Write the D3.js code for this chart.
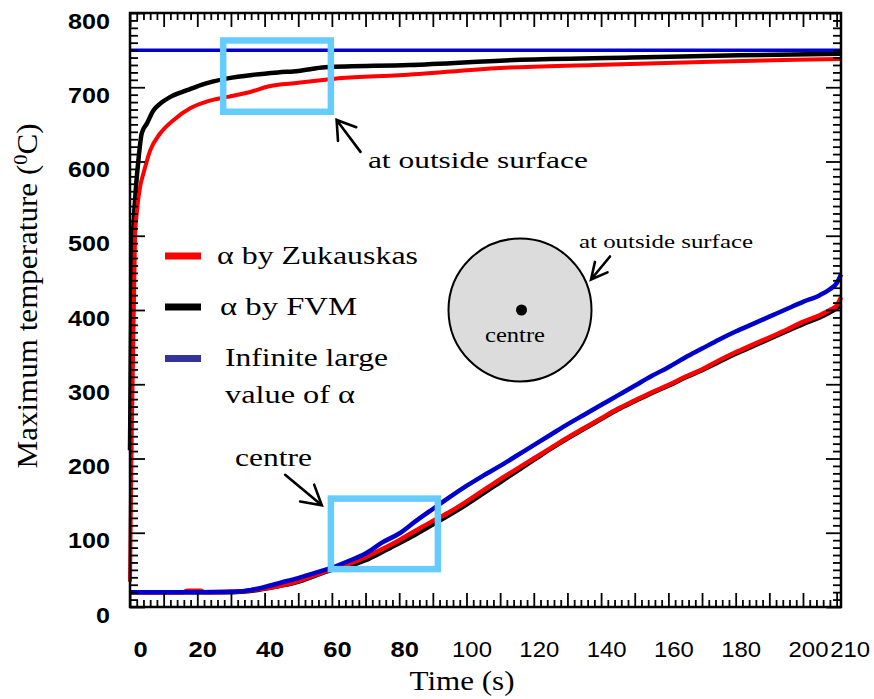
<!DOCTYPE html>
<html>
<head>
<meta charset="utf-8">
<script src="https://cdn.jsdelivr.net/npm/d3@7"></script>
<style>
  html, body { margin: 0; padding: 0; background: #fff; }
  svg { display: block; }
</style>
</head>
<body>
<svg id="chart" width="874" height="699"></svg>
<script>
// ---- Data: maximum temperature (°C) against time (s) ----
// Outside surface, convective coefficient from the Zukauskas correlation
const surfZukTime = [0, 0.5, 1.5, 2, 3, 4, 6, 9, 13, 18, 23, 29, 36, 41, 50, 58, 62, 80, 110, 138, 170, 198, 211.3];
const surfZukTemp = [34, 225, 500, 530, 566, 584, 615, 638, 656, 672, 681, 687, 694, 701, 706, 710, 712, 716, 726, 730, 734, 737, 738];

// Outside surface, coefficient from the FVM solution
const surfFvmTime = [0, 0.4, 0.8, 1.5, 2.5, 3.5, 5, 7, 9, 12, 17, 21, 29, 37, 44, 50, 58, 83, 116, 149, 181, 211.3];
const surfFvmTemp = [211, 420, 490, 548, 602, 638, 651, 669, 678, 687, 696, 703, 712, 717, 720, 722, 727, 730, 737, 740, 743, 745];

// Outside surface, infinitely large coefficient
const surfInfTime = [0, 211.3];
const surfInfTemp = [750, 750];

// Centre, Zukauskas
const centreZukTime = [0, 16, 17, 21, 22, 33, 38, 44, 50, 55, 60, 65, 70, 75, 80, 85, 90, 95, 100, 105, 110, 115, 120, 125, 130, 135, 140, 145, 150, 155, 160, 165, 170, 175, 180, 185, 190, 195, 200, 205, 208, 210, 211.3];
const centreZukTemp = [20, 20, 22, 22, 20, 21, 24, 28, 35, 43, 51, 58, 67, 78, 90, 103, 116, 128, 142, 157, 172, 186, 200, 214, 228, 241, 254, 267, 278, 289, 299, 310, 320, 332, 343, 353, 363, 373, 384, 393, 400, 406, 417];

// Centre, FVM
const centreFvmTime = [0, 30, 34, 38, 44, 50, 55, 60, 65, 70, 75, 80, 85, 90, 95, 100, 105, 110, 115, 120, 125, 130, 135, 140, 145, 150, 155, 160, 165, 170, 175, 180, 185, 190, 195, 200, 205, 208, 210, 211.3];
const centreFvmTemp = [20, 20, 21, 23, 28, 34, 42, 50, 55, 63, 74, 86, 98, 111, 124, 138, 153, 168, 183, 198, 213, 227, 240, 253, 266, 277, 288, 298, 309, 319, 330, 341, 351, 361, 371, 381, 390, 397, 402, 407];

// Centre, infinitely large coefficient
const centreInfTime = [0, 20, 33, 36, 40, 45, 50, 55, 60, 65, 70, 75, 80, 85, 90, 95, 100, 105, 110, 115, 120, 125, 130, 135, 140, 145, 150, 155, 160, 165, 170, 175, 180, 185, 190, 195, 200, 205, 208, 210, 211.3];
const centreInfTemp = [20, 20, 21, 23, 27, 33, 39, 46, 53, 62, 72, 87, 99, 116, 132, 148, 163, 177, 190, 204, 218, 232, 246, 259, 272, 285, 298, 311, 323, 336, 348, 360, 371, 381, 391, 401, 411, 420, 428, 436, 448];

// Axis ticks
const xTickLabels = [0, 20, 40, 60, 80, 100, 120, 140, 160, 180, 200, 210];
const yTickLabels = [0, 100, 200, 300, 400, 500, 600, 700, 800];

// Legend entries
const legendLabels = ["α by Zukauskas", "α by FVM", "Infinite large"];
const legendColors = ["#ff0000", "#000000", "#333399"];

// Highlight boxes, [t0, t1, T0, T1]
const zoomBoxes = [[27.7, 59.7, 667, 763], [59.7, 91.5, 51, 146]];

// ---- Layout ----
const svg = d3.select("#chart");
const x = d3.scaleLinear().domain([0, 211.3]).range([130, 841]);
const y = d3.scaleLinear().domain([0, 800]).range([607, 13]);

const serif = "'Liberation Serif', 'Times New Roman', Times, serif";
const sans = "'Liberation Sans', Arial, Helvetica, sans-serif";

const BLUE = "#0000cc", RED = "#ff0000", BLACK = "#000000", CYAN = "#66ccff";

// ---- Curves ----
const line = d3.line().x(d => x(d[0])).y(d => y(d[1])).curve(d3.curveMonotoneX);
const zip = (t, v) => t.map((d, i) => [d, v[i]]);

const plot = svg.append("g");
const series = [
  { t: centreFvmTime, v: centreFvmTemp, c: BLACK, w: 4.5 },
  { t: centreZukTime, v: centreZukTemp, c: RED, w: 4.5 },
  { t: centreInfTime, v: centreInfTemp, c: BLUE, w: 4.5 },
  { t: surfFvmTime, v: surfFvmTemp, c: BLACK, w: 4.5 },
  { t: surfZukTime, v: surfZukTemp, c: RED, w: 4 },
  { t: surfInfTime, v: surfInfTemp, c: BLUE, w: 3.5 }
];
series.forEach(s => {
  plot.append("path")
    .attr("d", line(zip(s.t, s.v)))
    .attr("fill", "none")
    .attr("stroke", s.c)
    .attr("stroke-width", s.w)
    .attr("stroke-linejoin", "round");
});

// ---- Highlight boxes ----
svg.append("g").selectAll("rect").data(zoomBoxes).join("rect")
  .attr("x", d => x(d[0]))
  .attr("y", d => y(d[3]))
  .attr("width", d => x(d[1]) - x(d[0]))
  .attr("height", d => y(d[2]) - y(d[3]))
  .attr("fill", "none")
  .attr("stroke", CYAN)
  .attr("stroke-width", 6.5);

// ---- Frame ticks (inward on all four sides) ----
const xMinor = d3.range(0, 211, 2).filter(v => v % 10 !== 0);
const xMajor = d3.range(0, 211, 10);
const yMinor = d3.range(0, 801, 10).filter(v => v % 100 !== 0);
const yMajor = d3.range(0, 801, 100);

function tickAxis(axisFn, scale, values, size, transform) {
  const g = svg.append("g").attr("transform", transform)
    .call(axisFn(scale).tickValues(values).tickSize(size).tickFormat(""));
  g.select(".domain").remove();
  g.selectAll(".tick line").attr("stroke", "#000").attr("stroke-width", 1.8);
}
tickAxis(d3.axisTop, x, xMinor, 7, "translate(0,607)");
tickAxis(d3.axisTop, x, xMajor, 14, "translate(0,607)");
tickAxis(d3.axisBottom, x, xMinor, 7, "translate(0,13)");
tickAxis(d3.axisBottom, x, xMajor, 14, "translate(0,13)");
tickAxis(d3.axisRight, y, yMinor, 8, "translate(130,0)");
tickAxis(d3.axisRight, y, yMajor, 15, "translate(130,0)");
tickAxis(d3.axisLeft, y, yMinor, 8, "translate(841,0)");
tickAxis(d3.axisLeft, y, yMajor, 15, "translate(841,0)");

// Frame
svg.append("rect")
  .attr("x", x(0)).attr("y", y(800))
  .attr("width", x(211.3) - x(0)).attr("height", y(0) - y(800))
  .attr("fill", "none").attr("stroke", "#000").attr("stroke-width", 2.5);

// ---- Tick labels ----
const xLab = svg.append("g").attr("transform", "translate(0,607)")
  .call(d3.axisBottom(x).tickValues(xTickLabels).tickSize(0).tickFormat(d3.format("d")));
xLab.select(".domain").remove();
xLab.selectAll("text")
  .attr("y", 50).attr("dy", 0)
  .attr("dx", (d, i) => i === 0 ? 10 : (i === xTickLabels.length - 1 ? 13 : 5))
  .attr("fill", "#000")
  .style("font-family", sans)
  .style("font-size", "22px")
  .style("font-weight", d => d < 100 ? "bold" : "normal")
  .attr("textLength", d => String(d).length * (d < 100 ? 14.2 : 13.3))
  .attr("lengthAdjust", "spacingAndGlyphs");

const yLab = svg.append("g").attr("transform", "translate(130,0)")
  .call(d3.axisLeft(y).tickValues(yTickLabels).tickSize(0).tickPadding(20).tickFormat(d3.format("d")));
yLab.select(".domain").remove();
yLab.selectAll("text")
  .attr("dy", 15).attr("x", -20)
  .attr("fill", "#000")
  .style("font-family", sans)
  .style("font-size", "22px")
  .style("font-weight", "bold")
  .attr("textLength", d => String(d).length * 14)
  .attr("lengthAdjust", "spacingAndGlyphs");

// ---- Axis titles ----
svg.append("text")
  .attr("x", 462).attr("y", 690)
  .attr("text-anchor", "middle")
  .style("font-family", serif).style("font-size", "28px")
  .attr("textLength", 105).attr("lengthAdjust", "spacingAndGlyphs")
  .text("Time (s)");

const yTitle = svg.append("text")
  .attr("transform", "translate(37,296) rotate(-90)")
  .attr("text-anchor", "middle")
  .style("font-family", serif).style("font-size", "29px")
  .attr("textLength", 345).attr("lengthAdjust", "spacingAndGlyphs");
yTitle.append("tspan").text("Maximum temperature (");
yTitle.append("tspan").attr("baseline-shift", "super").style("font-size", "19px").text("0");
yTitle.append("tspan").text("C)");

// ---- Legend ----
const legendRows = [256, 307, 358.5];
const legendText = [
  { x: 217, y: 264, w: 201 },
  { x: 220, y: 315, w: 137 },
  { x: 225, y: 366, w: 163 }
];
const leg = svg.append("g");
legendLabels.forEach((lab, i) => {
  leg.append("line")
    .attr("x1", 165).attr("x2", 201)
    .attr("y1", legendRows[i]).attr("y2", legendRows[i])
    .attr("stroke", legendColors[i]).attr("stroke-width", 7);
  leg.append("text")
    .attr("x", legendText[i].x).attr("y", legendText[i].y)
    .style("font-family", serif).style("font-size", "26px")
    .attr("textLength", legendText[i].w).attr("lengthAdjust", "spacingAndGlyphs")
    .text(lab);
});
leg.append("text")
  .attr("x", 225).attr("y", 403)
  .style("font-family", serif).style("font-size", "26px")
  .attr("textLength", 130).attr("lengthAdjust", "spacingAndGlyphs")
  .text("value of α");

// ---- Annotations ----
function arrow(x1, y1, x2, y2, head, half) {
  // shaft from (x1,y1) to tip (x2,y2) with an open V head
  const a = Math.atan2(y1 - y2, x1 - x2);
  const h = half * Math.PI / 180;
  const w1 = [x2 + head * Math.cos(a - h), y2 + head * Math.sin(a - h)];
  const w2 = [x2 + head * Math.cos(a + h), y2 + head * Math.sin(a + h)];
  svg.append("path")
    .attr("d", `M${x1},${y1}L${x2},${y2}M${w1[0]},${w1[1]}L${x2},${y2}L${w2[0]},${w2[1]}`)
    .attr("fill", "none").attr("stroke", "#000").attr("stroke-width", 2.6)
    .attr("stroke-linecap", "round").attr("stroke-linejoin", "miter");
}

// surface curves label
arrow(x(68.5), y(613), x(61.4), y(656), 21, 33);
svg.append("text")
  .attr("x", x(70.7)).attr("y", y(591))
  .style("font-family", serif).style("font-size", "24px")
  .attr("textLength", 220).attr("lengthAdjust", "spacingAndGlyphs")
  .text("at outside surface");

// centre curves label
arrow(x(46.1), y(178), x(57.0), y(137), 22, 30);
svg.append("text")
  .attr("x", x(31.2)).attr("y", y(190))
  .style("font-family", serif).style("font-size", "26px")
  .attr("textLength", 77).attr("lengthAdjust", "spacingAndGlyphs")
  .text("centre");

// ---- Cross-section sketch ----
svg.append("circle")
  .attr("cx", 520).attr("cy", 310).attr("r", 71.5)
  .attr("fill", "#dcdcdc").attr("stroke", "#000").attr("stroke-width", 2);
svg.append("circle")
  .attr("cx", 521.5).attr("cy", 310).attr("r", 5.5).attr("fill", "#000");
svg.append("text")
  .attr("x", 485).attr("y", 342)
  .style("font-family", serif).style("font-size", "20px")
  .attr("textLength", 60).attr("lengthAdjust", "spacingAndGlyphs")
  .text("centre");
svg.append("text")
  .attr("x", 579).attr("y", 248)
  .style("font-family", serif).style("font-size", "19px")
  .attr("textLength", 174).attr("lengthAdjust", "spacingAndGlyphs")
  .text("at outside surface");
arrow(610, 256.5, 591, 279.5, 18, 27);
</script>
</body>
</html>
